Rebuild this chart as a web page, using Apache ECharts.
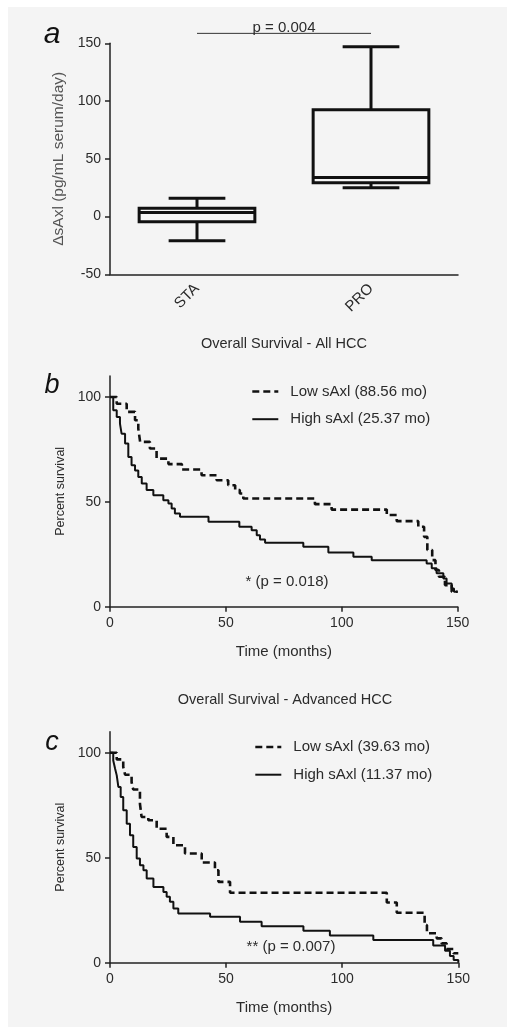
<!DOCTYPE html>
<html><head><meta charset="utf-8">
<script src="https://cdn.jsdelivr.net/npm/echarts@6/dist/echarts.min.js"></script>
<style>html,body{margin:0;padding:0;background:#fff;}#c{width:514px;height:1034px;}</style>
</head><body><div id="c"></div>
<script>
// ---------- Panel a: box plot ----------
const boxCategories = ['STA', 'PRO'];
const boxMin    = [-21, 25];
const boxQ1     = [-4.5, 29.3];
const boxMedian = [3.6, 33.9];
const boxQ3     = [7.1, 92.5];
const boxMax    = [15.8, 147];
const boxYTicks = [-50, 0, 50, 100, 150];
const boxYName = 'ΔsAxl (pg/mL serum/day)';
const sigBar = [0, 1, 158.6];
const sigText = 'p = 0.004';

// ---------- Panel b: All HCC ----------
const bTitle = 'Overall Survival - All HCC';
const bLowName = 'Low sAxl (88.56 mo)';
const bHighName = 'High sAxl (25.37 mo)';
const bLowT = [0, 2.9, 7.2, 10.8, 12.2, 13.0, 17.2, 20.1, 25.2, 31.0, 39.5, 46.0, 51.0, 54.0, 56.0, 57.5, 88.4, 95.6, 119.4, 123.7, 133.0, 135.5, 136.9, 139.0, 140.4, 141.9, 144.5, 147.4, 149.4, 150];
const bLowS = [100, 96.8, 92.9, 88.9, 84.9, 78.6, 75.4, 70.6, 68.0, 65.4, 62.7, 60.3, 57.9, 55.6, 54.0, 51.6, 48.9, 46.3, 43.7, 40.8, 38.1, 33.3, 27.0, 22.2, 17.5, 14.3, 10.3, 7.1, 7.1, 7.1];
const bHighT = [0, 1.4, 2.9, 4.3, 5.0, 6.5, 7.9, 9.3, 10.8, 12.2, 13.7, 15.8, 18.7, 23.0, 25.2, 26.6, 28.0, 30.2, 42.5, 55.8, 61.1, 63.3, 64.7, 66.9, 83.4, 94.2, 105.0, 112.9, 136.6, 138.8, 140.9, 143.8, 145.2, 147.4, 148.4, 150];
const bHighS = [100, 93.7, 90.5, 87.3, 82.5, 77.8, 71.4, 67.5, 65.0, 61.9, 58.7, 55.6, 53.2, 50.8, 49.2, 46.8, 44.4, 42.9, 40.5, 38.1, 36.5, 34.1, 32.1, 30.5, 28.6, 25.9, 23.8, 22.2, 20.6, 18.3, 15.9, 13.5, 11.1, 8.7, 7.1, 7.1];
const bNote = '* (p = 0.018)';

// ---------- Panel c: Advanced HCC ----------
const cTitle = 'Overall Survival - Advanced HCC';
const cLowName = 'Low sAxl (39.63 mo)';
const cHighName = 'High sAxl (11.37 mo)';
const cLowT = [0, 2.9, 5.7, 6.5, 9.3, 10.0, 12.9, 13.6, 16.5, 20.1, 24.4, 27.3, 32.3, 39.5, 45.2, 46.7, 51.7, 119.2, 123.5, 135.5, 136.5, 140.7, 142.8, 145.0, 147.9, 150];
const cLowS = [100, 96.8, 93.2, 89.5, 86.0, 82.5, 75.7, 69.4, 67.8, 63.8, 59.9, 55.9, 52.0, 47.7, 44.0, 38.5, 33.3, 28.7, 23.8, 17.9, 14.0, 11.6, 9.2, 6.5, 4.5, 4.5];
const cHighT = [0, 1.4, 2.2, 2.9, 3.6, 4.6, 5.7, 7.2, 8.6, 10.0, 11.5, 12.9, 14.4, 15.8, 18.7, 23.0, 24.4, 25.8, 27.3, 29.4, 43.1, 56.0, 65.3, 83.3, 94.7, 113.4, 139.2, 144.3, 146.4, 148.0, 150];
const cHighS = [100, 96.3, 92.4, 89.2, 83.7, 78.9, 72.6, 66.2, 60.7, 55.1, 49.6, 46.4, 44.0, 40.1, 36.1, 33.7, 31.4, 29.0, 25.8, 23.4, 21.9, 19.5, 17.4, 15.2, 13.0, 10.8, 8.2, 5.7, 3.2, 1.3, 0];
const cNote = '** (p = 0.007)';

const kmXTicks = [0, 50, 100, 150];
const kmYTicks = [0, 50, 100];
const kmXName = 'Time (months)';
const kmYName = 'Percent survival';

// ---------- chart ----------
const FONT = "'Liberation Sans', Arial, sans-serif";
const TXT = '#2b2b2b';
const AX = '#222';
const chart = echarts.init(document.getElementById('c'), null, {renderer: 'canvas'});

function pairs(t, s) { return t.map((v, i) => [v, s[i]]); }

function renderBox(params, api) {
  const i = api.value(0);
  const cx = api.coord([i, 0])[0];
  const band = api.size([1, 0])[0];
  const bw = band * 0.665, cw = band * 0.326;
  const y = v => api.coord([i, v])[1];
  const yMin = y(api.value(1)), yQ1 = y(api.value(2)), yMed = y(api.value(3)), yQ3 = y(api.value(4)), yMax = y(api.value(5));
  const st = {stroke: '#111', lineWidth: 3};
  return {type: 'group', children: [
    {type: 'line', shape: {x1: cx, y1: yMax, x2: cx, y2: yQ3}, style: st},
    {type: 'line', shape: {x1: cx, y1: yQ1, x2: cx, y2: yMin}, style: st},
    {type: 'line', shape: {x1: cx - cw / 2, y1: yMax, x2: cx + cw / 2, y2: yMax}, style: st},
    {type: 'line', shape: {x1: cx - cw / 2, y1: yMin, x2: cx + cw / 2, y2: yMin}, style: st},
    {type: 'rect', shape: {x: cx - bw / 2, y: yQ3, width: bw, height: yQ1 - yQ3}, style: {stroke: '#111', lineWidth: 3, fill: 'none'}},
    {type: 'line', shape: {x1: cx - bw / 2, y1: yMed, x2: cx + bw / 2, y2: yMed}, style: st}
  ]};
}
function renderSig(params, api) {
  const p1 = api.coord([api.value(0), api.value(2)]);
  const p2 = api.coord([api.value(1), api.value(2)]);
  return {type: 'group', children: [
    {type: 'line', shape: {x1: p1[0], y1: p1[1], x2: p2[0], y2: p2[1]}, style: {stroke: '#333', lineWidth: 1}},
    {type: 'text', x: (p1[0] + p2[0]) / 2, y: p1[1] + 1.5, style: {text: sigText, align: 'center', verticalAlign: 'bottom', fontSize: 15, fontFamily: FONT, fill: TXT}}
  ]};
}

const axisLineStyle = {onZero: false, lineStyle: {color: AX, width: 1.5}};
const tickStyle = {length: 5, lineStyle: {color: AX, width: 1.5}};
const labelStyle = {color: TXT, fontSize: 14, fontFamily: FONT};

function kmX(gridIndex) {
  return {type: 'value', gridIndex, min: 0, max: 150, interval: 50,
    axisLine: axisLineStyle, axisTick: Object.assign({customValues: kmXTicks}, tickStyle),
    axisLabel: Object.assign({customValues: kmXTicks, margin: 9}, labelStyle),
    splitLine: {show: false},
    name: kmXName, nameLocation: 'middle', nameGap: 38,
    nameTextStyle: {color: TXT, fontSize: 15, fontFamily: FONT}};
}
function kmY(gridIndex) {
  return {type: 'value', gridIndex, min: 0, max: 110, interval: 50,
    axisLine: {show: true, onZero: false, lineStyle: {color: AX, width: 1.5}},
    axisTick: Object.assign({show: true, customValues: kmYTicks}, tickStyle),
    axisLabel: Object.assign({customValues: kmYTicks, margin: 9}, labelStyle),
    splitLine: {show: false},
    name: kmYName, nameLocation: 'middle', nameGap: 42,
    nameTextStyle: {color: TXT, fontSize: 12.5, fontFamily: FONT}};
}
function kmSeries(name, t, s, xi, dashed) {
  return {type: 'line', name, xAxisIndex: xi, yAxisIndex: xi, data: pairs(t, s), step: 'end',
    symbol: 'none', animation: false, color: '#111',
    lineStyle: dashed ? {color: '#111', width: 2.6, type: [7, 4]} : {color: '#111', width: 2},
    z: dashed ? 3 : 2};
}
function legendFor(names, left, top) {
  return {data: [
      {name: names[0], lineStyle: {width: 2.6, type: [7, 4], color: '#111'}},
      {name: names[1], lineStyle: {width: 2, color: '#111'}}],
    left, top, padding: 0, orient: 'vertical', itemWidth: 26, itemHeight: 14, itemGap: 12.7,
    selectedMode: false,
    itemStyle: {opacity: 0, borderWidth: 0},
    textStyle: {fontSize: 15, color: TXT, fontFamily: FONT, padding: [0, 0, 0, 7]}};
}

const option = {
  animation: false,
  textStyle: {fontFamily: FONT},
  grid: [
    {left: 110, top: 43.3, width: 348, height: 231},
    {left: 110, top: 376, width: 347.7, height: 230.7},
    {left: 110, top: 731.7, width: 348.3, height: 231}
  ],
  xAxis: [
    {type: 'category', gridIndex: 0, data: boxCategories, boundaryGap: true,
      axisLine: axisLineStyle, axisTick: Object.assign({alignWithLabel: true}, tickStyle),
      axisLabel: Object.assign({rotate: 45, margin: 12}, labelStyle, {fontSize: 15})},
    kmX(1), kmX(2)
  ],
  yAxis: [
    {type: 'value', gridIndex: 0, min: -50, max: 150, interval: 50,
      axisLine: {show: true, onZero: false, lineStyle: {color: AX, width: 1.5}},
      axisTick: Object.assign({show: true}, tickStyle),
      axisLabel: Object.assign({customValues: boxYTicks, margin: 9}, labelStyle),
      splitLine: {show: false},
      name: boxYName, nameLocation: 'middle', nameGap: 42,
      nameTextStyle: {color: '#555', fontSize: 15.5, fontFamily: FONT}},
    kmY(1), kmY(2)
  ],
  legend: [legendFor([bLowName, bHighName], 251, 384), legendFor([cLowName, cHighName], 254, 739.5)],
  series: [
    {type: 'custom', xAxisIndex: 0, yAxisIndex: 0, renderItem: renderBox, clip: false,
      data: boxCategories.map((c, i) => [i, boxMin[i], boxQ1[i], boxMedian[i], boxQ3[i], boxMax[i]]),
      encode: {x: 0, y: [1, 2, 3, 4, 5]}},
    {type: 'custom', xAxisIndex: 0, yAxisIndex: 0, renderItem: renderSig, clip: false,
      data: [sigBar], encode: {x: [0, 1], y: 2}},
    kmSeries(bLowName, bLowT, bLowS, 1, true),
    kmSeries(bHighName, bHighT, bHighS, 1, false),
    kmSeries(cLowName, cLowT, cLowS, 2, true),
    kmSeries(cHighName, cHighT, cHighS, 2, false)
  ],
  graphic: [
    {type: 'rect', z: -10, shape: {x: 8, y: 7, width: 499, height: 1020}, style: {fill: '#f4f4f4'}},
    {type: 'text', x: 52, y: 50, style: {text: 'a', fontSize: 30, fontStyle: 'italic', fontFamily: FONT, fill: '#111', align: 'center', verticalAlign: 'bottom'}},
    {type: 'text', x: 52, y: 399, style: {text: 'b', fontSize: 27, fontStyle: 'italic', fontFamily: FONT, fill: '#111', align: 'center', verticalAlign: 'bottom'}},
    {type: 'text', x: 52, y: 756, style: {text: 'c', fontSize: 27, fontStyle: 'italic', fontFamily: FONT, fill: '#111', align: 'center', verticalAlign: 'bottom'}},
    {type: 'text', x: 284, y: 344, style: {text: bTitle, fontSize: 14.5, fontFamily: FONT, fill: TXT, align: 'center', verticalAlign: 'middle'}},
    {type: 'text', x: 285, y: 700, style: {text: cTitle, fontSize: 14.5, fontFamily: FONT, fill: TXT, align: 'center', verticalAlign: 'middle'}},
    {type: 'text', x: 287, y: 581.7, style: {text: bNote, fontSize: 15, fontFamily: FONT, fill: TXT, align: 'center', verticalAlign: 'middle'}},
    {type: 'text', x: 291, y: 947, style: {text: cNote, fontSize: 15, fontFamily: FONT, fill: TXT, align: 'center', verticalAlign: 'middle'}}
  ]
};
chart.setOption(option);
</script></body></html>
